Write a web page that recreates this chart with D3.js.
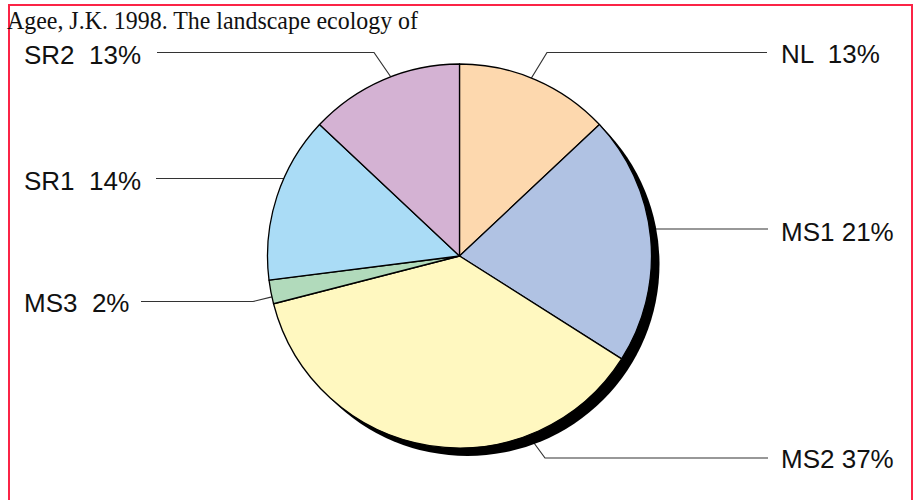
<!DOCTYPE html>
<html>
<head>
<meta charset="utf-8">
<script src="https://cdn.jsdelivr.net/npm/d3@7"></script>
<style>
  body { margin: 0; background: #fff; }
  svg { display: block; }
  .lbl { font-family: "Liberation Sans", Arial, sans-serif; font-size: 26px; fill: #111; white-space: pre; }
  .ttl { font-family: "Liberation Serif", "Times New Roman", serif; font-size: 25.5px; fill: #111; }
</style>
</head>
<body>
<svg id="chart" width="917" height="500"></svg>
<script>
// data, clockwise from 12 o'clock
var names = ['NL', 'MS1', 'MS2', 'MS3', 'SR1', 'SR2'];
var values = [13, 21, 37, 2, 14, 13];
var labels = ['NL  13%', 'MS1 21%', 'MS2 37%', 'MS3  2%', 'SR1  14%', 'SR2  13%'];
var colors = ['#fdd8ae', '#b0c2e3', '#fff8c0', '#b1dabb', '#aadcf6', '#d4b2d3'];
var title = 'Agee, J.K. 1998. The landscape ecology of';

// label layout: anchor angle on rim (deg), line y, elbow x, line end x, text x, baseline
var lay = [
	{ ang: 22,  ly: 52.5, ex: 547, end: 767, tx: 781, ty: 63 },
	{ ang: 81,  ly: 229,  ex: null, end: 768, tx: 781, ty: 241 },
	{ ang: 159, ly: 458,  ex: 545, end: 768, tx: 781, ty: 468 },
	{ ang: 257.7, ly: 301.5, ex: 253, end: 141, tx: 24, ty: 312 },
	{ ang: 294, ly: 178.5, ex: null, end: 156, tx: 24, ty: 190 },
	{ ang: 339, ly: 52.5, ex: 374, end: 157, tx: 24, ty: 64 }
];

var cx = 459.5, cy = 256, r = 192;
var svg = d3.select('#chart');

svg.append('rect')
	.attr('x', 9).attr('y', 5)
	.attr('width', 903).attr('height', 540)
	.attr('fill', 'none')
	.attr('stroke', '#fb2446')
	.attr('stroke-width', 2);

svg.append('text')
	.attr('class', 'ttl')
	.attr('x', 7).attr('y', 29)
	.attr('textLength', 411)
	.attr('lengthAdjust', 'spacingAndGlyphs')
	.text(title);

// leader lines (drawn under the pie)
var rad = function(a) { return a * Math.PI / 180; };
svg.append('g').selectAll('path')
	.data(lay)
	.enter().append('path')
	.attr('d', function(d) {
		var px = cx + r * Math.sin(rad(d.ang));
		var py = cy - r * Math.cos(rad(d.ang));
		var pts = [[px, py]];
		if (d.ex !== null) pts.push([d.ex, d.ly]);
		else pts[0][1] = d.ly;
		pts.push([d.end, d.ly]);
		return 'M' + pts.join('L');
	})
	.attr('fill', 'none')
	.attr('stroke', '#333')
	.attr('stroke-width', 1.2);

// shadow
svg.append('circle')
	.attr('cx', cx + 8).attr('cy', cy + 8)
	.attr('r', r)
	.attr('fill', '#000');

var pie = d3.pie().sort(null).value(function(d) { return d; });
var arc = d3.arc().innerRadius(0).outerRadius(r);

var g = svg.append('g').attr('transform', 'translate(' + cx + ',' + cy + ')');
g.selectAll('path')
	.data(pie(values))
	.enter().append('path')
	.attr('d', arc)
	.attr('fill', function(d, i) { return colors[i]; })
	.attr('stroke', '#000')
	.attr('stroke-width', 1.3)
	.attr('stroke-linejoin', 'round');

svg.append('g').selectAll('text')
	.data(lay)
	.enter().append('text')
	.attr('class', 'lbl')
	.attr('x', function(d) { return d.tx; })
	.attr('y', function(d) { return d.ty; })
	.text(function(d, i) { return labels[i]; });
</script>
</body>
</html>
